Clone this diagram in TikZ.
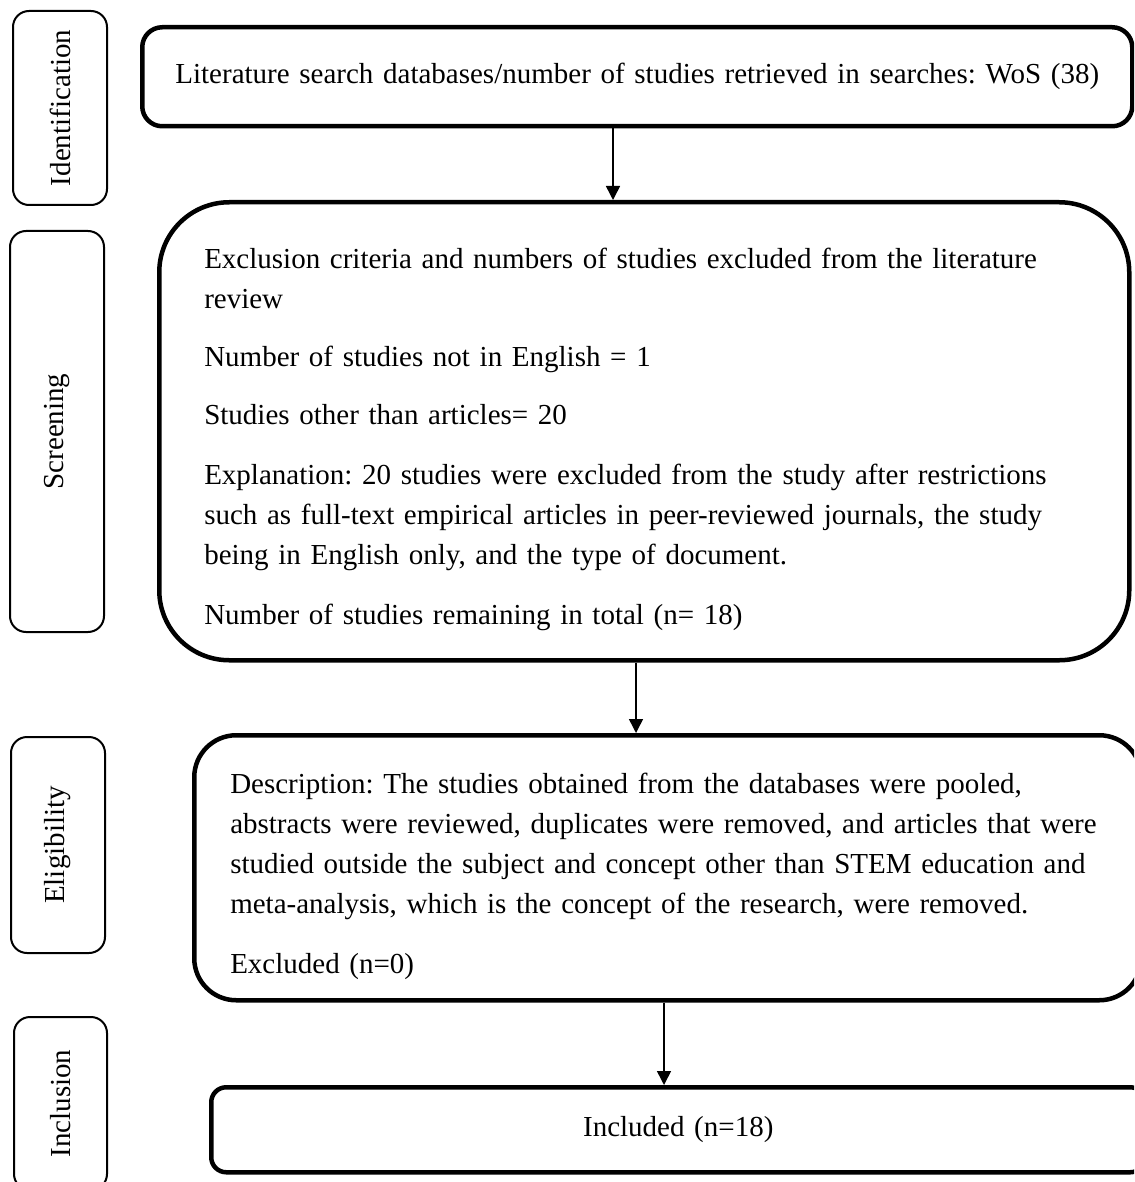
\documentclass[tikz,border=0pt]{standalone}
\usepackage{fontspec}
\setmainfont{Liberation Serif}
\usepackage{graphicx}
\usetikzlibrary{arrows.meta,calc}
\frenchspacing
\newcommand{\toppad}{\rule{0pt}{37pt}}
\begin{document}
\begin{tikzpicture}[x=1pt,y=-1pt,
  lab/.style={draw, line width=2pt, rounded corners=16pt, inner sep=0pt, anchor=center,
    font=\fontsize{29}{32}\selectfont},
  mainbox/.style={draw, line width=4.5pt, anchor=north west, inner ysep=0pt,
    font=\fontsize{29}{40}\selectfont},
  arr/.style={line width=1.5pt, -{Triangle[width=14pt,length=14pt]}}
]
\useasboundingbox (0,0) rectangle (1134,1182);
\clip (0,0) rectangle (1134,1182);

% stage labels
\node[lab, minimum width=94pt, minimum height=194pt] (l1) at (60,108) {\rotatebox{90}{Identification}};
\node[lab, minimum width=94pt, minimum height=401pt] (l2) at (57,431.5) {\rotatebox{90}{Screening}};
\node[lab, minimum width=94pt, minimum height=216pt] (l3) at (58,845) {\rotatebox{90}{Eligibility}};
\node[lab, minimum width=93pt, minimum height=173pt] (l4) at (60.5,1103.5) {\rotatebox{90}{Inclusion}};

% main boxes
\node[mainbox, rounded corners=20pt, minimum width=990pt, minimum height=99pt,
  inner xsep=20pt, text width=950pt, align=center] (b1) at (140,25)
  {Literature search databases/number of studies retrieved in searches: WoS (38)};

\node[mainbox, rounded corners=70pt, minimum width=970pt, minimum height=458pt,
  inner xsep=45pt, text width=880pt, align=left] (b2) at (157,200)
  {\toppad Exclusion criteria and numbers of studies excluded from the literature\\
   review\\[18pt]
   Number of studies not in English = 1\\[18pt]
   Studies other than articles= 20\\[20pt]
   Explanation: 20 studies were excluded from the study after restrictions\\
   such as full-text empirical articles in peer-reviewed journals, the study\\
   being in English only, and the type of document.\\[20pt]
   Number of studies remaining in total (n= 18)};

\node[mainbox, rounded corners=42pt, minimum width=947pt, minimum height=265pt,
  inner xsep=36pt, text width=875pt, align=left] (b3) at (192,733)
  {\toppad Description: The studies obtained from the databases were pooled,\\
   abstracts were reviewed, duplicates were removed, and articles that were\\
   studied outside the subject and concept other than STEM education and\\
   meta-analysis, which is the concept of the research, were removed.\\[20pt]
   Excluded (n=0)};

\node[mainbox, rounded corners=15pt, minimum width=934pt, minimum height=85pt,
  inner xsep=20pt, text width=894pt, align=center] (b4) at (209,1085)
  {Included (n=18)};

% connectors
\coordinate (x1) at (613,0);
\coordinate (x2) at (636,0);
\coordinate (x3) at (664,0);
\draw[arr] (x1 |- b1.south) -- (x1 |- b2.north);
\draw[arr] (x2 |- b2.south) -- (x2 |- b3.north);
\draw[arr] (x3 |- b3.south) -- (x3 |- b4.north);
\end{tikzpicture}
\end{document}
